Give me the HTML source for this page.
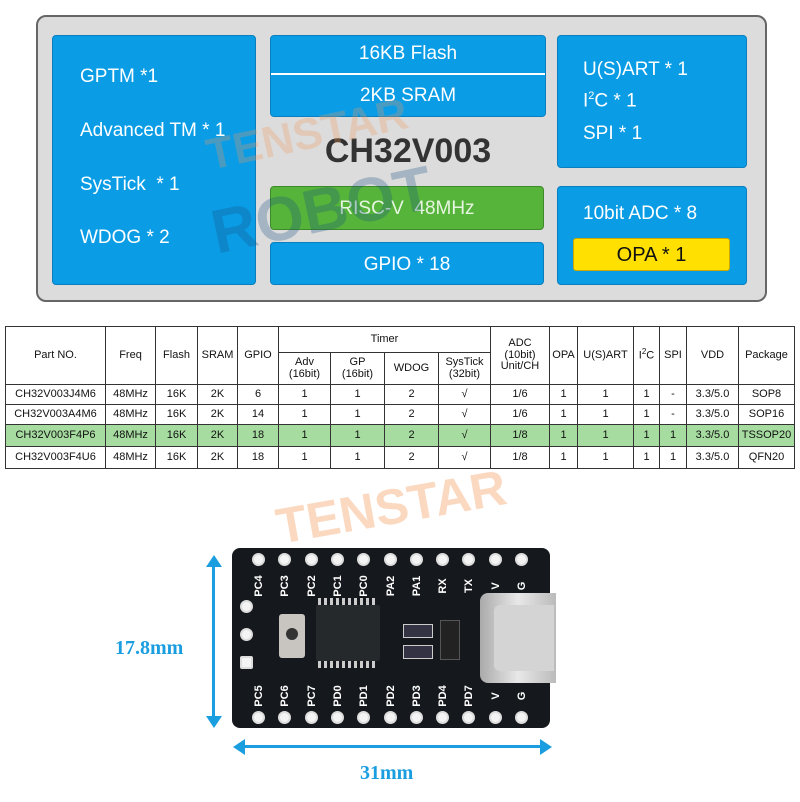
<!DOCTYPE html>
<html><head><meta charset="utf-8"><style>
*{margin:0;padding:0;box-sizing:border-box}
body{width:800px;height:802px;background:#fff;position:relative;overflow:hidden;font-family:"Liberation Sans",sans-serif}
.a{position:absolute}
.b{position:absolute;background:#0a9de6;border:1px solid #0a7fc0;border-radius:4px;color:#fff;font-size:20px}
.t{position:absolute;color:#fff;font-size:19px;white-space:nowrap}
table{position:absolute;left:5px;top:326px;border-collapse:collapse;font-size:11px;color:#111;text-align:center;table-layout:fixed}
td{border:1px solid #333;padding:0;line-height:1.05;overflow:hidden;white-space:nowrap}
.pin{position:absolute;width:13px;height:13px;border-radius:50%;background:#f4f4f4;border:2px solid #ddd}
.lb{position:absolute;color:#fff;font-family:"Liberation Sans",sans-serif;font-weight:bold;font-size:11px;transform:rotate(-90deg);transform-origin:center;white-space:nowrap}
</style></head><body>
<div class="a" style="left:36px;top:15px;width:731px;height:287px;background:#dcdcdc;border:2px solid #666;border-radius:10px"></div>
<div class="b" style="left:52px;top:35px;width:204px;height:250px"></div>
<div class="t" style="left:80px;top:66px">GPTM *1</div>
<div class="t" style="left:80px;top:120px">Advanced TM * 1</div>
<div class="t" style="left:80px;top:174px">SysTick &nbsp;* 1</div>
<div class="t" style="left:80px;top:227px">WDOG * 2</div>
<div class="b" style="left:270px;top:35px;width:276px;height:82px"></div>
<div class="a" style="left:271px;top:73px;width:274px;height:2px;background:#fff"></div>
<div class="t" style="left:270px;width:276px;text-align:center;top:43px">16KB Flash</div>
<div class="t" style="left:270px;width:276px;text-align:center;top:85px">2KB SRAM</div>
<div class="a" style="left:270px;width:276px;text-align:center;top:132px;font-size:34px;font-weight:bold;color:#333">CH32V003</div>
<div class="b" style="left:270px;top:186px;width:274px;height:44px;background:#56b43a;border-color:#3d8a2a"></div>
<div class="t" style="left:270px;width:274px;text-align:center;top:198px;color:#e6f5e0">RISC-V &nbsp;48MHz</div>
<div class="b" style="left:270px;top:242px;width:274px;height:43px"></div>
<div class="t" style="left:270px;width:274px;text-align:center;top:254px">GPIO * 18</div>
<div class="b" style="left:557px;top:35px;width:190px;height:133px"></div>
<div class="t" style="left:583px;top:59px">U(S)ART * 1</div>
<div class="t" style="left:583px;top:90px">I<sup style="font-size:11px">2</sup>C * 1</div>
<div class="t" style="left:583px;top:123px">SPI * 1</div>
<div class="b" style="left:557px;top:186px;width:190px;height:99px"></div>
<div class="t" style="left:583px;top:203px">10bit ADC * 8</div>
<div class="a" style="left:573px;top:238px;width:157px;height:33px;background:#ffe000;border:1px solid #c9a800;border-radius:3px;text-align:center;font-size:20px;line-height:33px;color:#111">OPA * 1</div>
<div class="a" style="left:205px;top:110px;font-size:44px;font-weight:bold;color:rgba(240,150,90,.28);transform:rotate(-12deg)">TENSTAR</div>
<div class="a" style="left:210px;top:175px;font-size:62px;font-weight:bold;color:rgba(20,80,130,.28);transform:rotate(-12deg)">ROBOT</div>

<table>
<colgroup><col style="width:100px"><col style="width:50px"><col style="width:42px"><col style="width:40px"><col style="width:41px"><col style="width:52px"><col style="width:54px"><col style="width:54px"><col style="width:52px"><col style="width:59px"><col style="width:28px"><col style="width:56px"><col style="width:26px"><col style="width:27px"><col style="width:52px"><col style="width:56px"></colgroup>
<tr style="height:26px"><td rowspan="2">Part NO.</td><td rowspan="2">Freq</td><td rowspan="2">Flash</td><td rowspan="2">SRAM</td><td rowspan="2">GPIO</td><td colspan="4">Timer</td><td rowspan="2">ADC<br>(10bit)<br>Unit/CH</td><td rowspan="2">OPA</td><td rowspan="2">U(S)ART</td><td rowspan="2">I<sup style="font-size:8px">2</sup>C</td><td rowspan="2">SPI</td><td rowspan="2">VDD</td><td rowspan="2">Package</td></tr>
<tr style="height:32px"><td>Adv<br>(16bit)</td><td>GP<br>(16bit)</td><td>WDOG</td><td>SysTick<br>(32bit)</td></tr>
<tr style="height:20px"><td>CH32V003J4M6</td><td>48MHz</td><td>16K</td><td>2K</td><td>6</td><td>1</td><td>1</td><td>2</td><td>√</td><td>1/6</td><td>1</td><td>1</td><td>1</td><td>-</td><td>3.3/5.0</td><td>SOP8</td></tr>
<tr style="height:20px"><td>CH32V003A4M6</td><td>48MHz</td><td>16K</td><td>2K</td><td>14</td><td>1</td><td>1</td><td>2</td><td>√</td><td>1/6</td><td>1</td><td>1</td><td>1</td><td>-</td><td>3.3/5.0</td><td>SOP16</td></tr>
<tr style="height:22px;background:#a6dca0"><td>CH32V003F4P6</td><td>48MHz</td><td>16K</td><td>2K</td><td>18</td><td>1</td><td>1</td><td>2</td><td>√</td><td>1/8</td><td>1</td><td>1</td><td>1</td><td>1</td><td>3.3/5.0</td><td>TSSOP20</td></tr>
<tr style="height:22px"><td>CH32V003F4U6</td><td>48MHz</td><td>16K</td><td>2K</td><td>18</td><td>1</td><td>1</td><td>2</td><td>√</td><td>1/8</td><td>1</td><td>1</td><td>1</td><td>1</td><td>3.3/5.0</td><td>QFN20</td></tr>
</table>

<div class="a" style="left:275px;top:478px;font-size:50px;font-weight:bold;color:rgba(245,160,100,.4);transform:rotate(-10deg)">TENSTAR</div>

<div class="a" style="left:232px;top:548px;width:318px;height:180px;background:#15181c;border-radius:8px"></div>
<div id="pins"></div>
<div class="a" style="left:316px;top:605px;width:64px;height:56px;background:#26292c;border-radius:2px"></div>
<div class="a" style="left:318px;top:598px;width:60px;height:7px;background:repeating-linear-gradient(90deg,#ccc 0 3px,transparent 3px 6px)"></div>
<div class="a" style="left:318px;top:661px;width:60px;height:7px;background:repeating-linear-gradient(90deg,#ccc 0 3px,transparent 3px 6px)"></div>
<div class="a" style="left:279px;top:614px;width:26px;height:44px;background:#c8c4c0;border-radius:3px"></div>
<div class="a" style="left:286px;top:628px;width:12px;height:12px;background:#333;border-radius:50%"></div>
<div class="a" style="left:440px;top:620px;width:20px;height:40px;background:#222;border:1px solid #555"></div>
<div class="a" style="left:403px;top:624px;width:30px;height:14px;border:1px solid #ccc;background:#334"></div>
<div class="a" style="left:403px;top:645px;width:30px;height:14px;border:1px solid #ccc;background:#334"></div>
<div class="a" style="left:480px;top:593px;width:76px;height:90px;background:linear-gradient(90deg,#aaa,#e8e8e8,#bbb);border-radius:8px 0 0 8px"></div>
<div class="a" style="left:494px;top:605px;width:60px;height:66px;background:#d4d4d4;border-radius:6px 0 0 6px"></div>

<div class="a" style="left:212px;top:562px;width:3px;height:158px;background:#1a9ee0"></div>
<div class="a" style="left:206px;top:555px;border-left:8px solid transparent;border-right:8px solid transparent;border-bottom:12px solid #1a9ee0"></div>
<div class="a" style="left:206px;top:716px;border-left:8px solid transparent;border-right:8px solid transparent;border-top:12px solid #1a9ee0"></div>
<div class="a" style="left:240px;top:745px;width:305px;height:3px;background:#1a9ee0"></div>
<div class="a" style="left:233px;top:739px;border-top:8px solid transparent;border-bottom:8px solid transparent;border-right:12px solid #1a9ee0"></div>
<div class="a" style="left:540px;top:739px;border-top:8px solid transparent;border-bottom:8px solid transparent;border-left:12px solid #1a9ee0"></div>
<div class="a" style="left:115px;top:637px;font-family:'Liberation Serif',serif;font-weight:bold;font-size:20px;color:#1a9ee0">17.8mm</div>
<div class="a" style="left:360px;top:762px;font-family:'Liberation Serif',serif;font-weight:bold;font-size:20px;color:#1a9ee0">31mm</div>
<script>
(function(){
var p=document.getElementById('pins'),h='';
var tl=['PC4','PC3','PC2','PC1','PC0','PA2','PA1','RX','TX','V','G'];
var bl=['PC5','PC6','PC7','PD0','PD1','PD2','PD3','PD4','PD7','V','G'];
for(var i=0;i<11;i++){var x=252+i*26.3;
h+='<div class="pin" style="left:'+x+'px;top:553px"></div>';
h+='<div class="pin" style="left:'+x+'px;top:711px"></div>';
h+='<div class="lb" style="left:'+(x-6)+'px;top:580px;width:26px;text-align:center">'+tl[i]+'</div>';
h+='<div class="lb" style="left:'+(x-6)+'px;top:690px;width:26px;text-align:center">'+bl[i]+'</div>';}
h+='<div class="pin" style="left:240px;top:600px"></div><div class="pin" style="left:240px;top:628px"></div><div class="pin" style="left:240px;top:656px;border-radius:2px"></div>';
p.innerHTML=h;
})();
</script>
</body></html>
